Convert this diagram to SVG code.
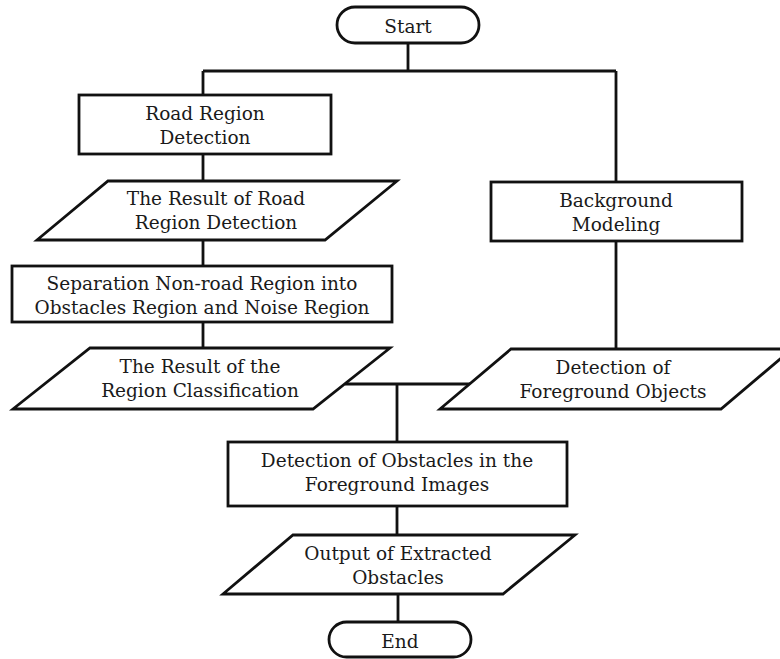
<svg xmlns="http://www.w3.org/2000/svg" width="780" height="659" viewBox="0 0 780 659">
<style>
.s{fill:#fff;stroke:#111;stroke-width:2.8}
.c{fill:none;stroke:#111;stroke-width:2.8}
text{font-family:"DejaVu Serif","Liberation Serif",serif;font-size:18.5px;fill:#1a1a1a;text-anchor:middle;dominant-baseline:central}
</style>
<rect width="780" height="659" fill="#fff"/>
<g id="connectors">
<path class="c" d="M408 43V71M203 71H616M203 71V95M203 154V181M203 240V266M203 322V348M616 71V182M616 241V349M345 384H470M397 384V442M397 506V535M398 594V622"/>
</g>
<g id="start"><rect class="s" x="337" y="7" width="142" height="36" rx="18"/><text x="408" y="26">Start</text></g>
<g id="road"><rect class="s" x="79" y="95" width="252" height="59"/><text x="205" y="113">Road Region</text><text x="205" y="137">Detection</text></g>
<g id="result-road"><polygon class="s" points="108,181 397,181 325,240 37,240"/><text x="216" y="198">The Result of Road</text><text x="216" y="222">Region Detection</text></g>
<g id="separation"><rect class="s" x="12" y="266" width="380" height="56"/><text x="202" y="283">Separation Non-road Region into</text><text x="202" y="307">Obstacles Region and Noise Region</text></g>
<g id="result-class"><polygon class="s" points="90,348 390,348 313,409 13,409"/><text x="200" y="366">The Result of the</text><text x="200" y="390">Region Classification</text></g>
<g id="background"><rect class="s" x="491" y="182" width="251" height="59"/><text x="616" y="200">Background</text><text x="616" y="224">Modeling</text></g>
<g id="foreground"><polygon class="s" points="511,349 792,349 721,409 440,409"/><text x="613" y="367">Detection of</text><text x="613" y="391">Foreground Objects</text></g>
<g id="detect-obst"><rect class="s" x="228" y="442" width="339" height="64"/><text x="397" y="460">Detection of Obstacles in the</text><text x="397" y="484">Foreground Images</text></g>
<g id="output"><polygon class="s" points="293,535 575,535 503,594 223,594"/><text x="398" y="553">Output of Extracted</text><text x="398" y="577">Obstacles</text></g>
<g id="end"><rect class="s" x="329" y="622" width="142" height="35" rx="17.5"/><text x="400" y="641">End</text></g>
</svg>
